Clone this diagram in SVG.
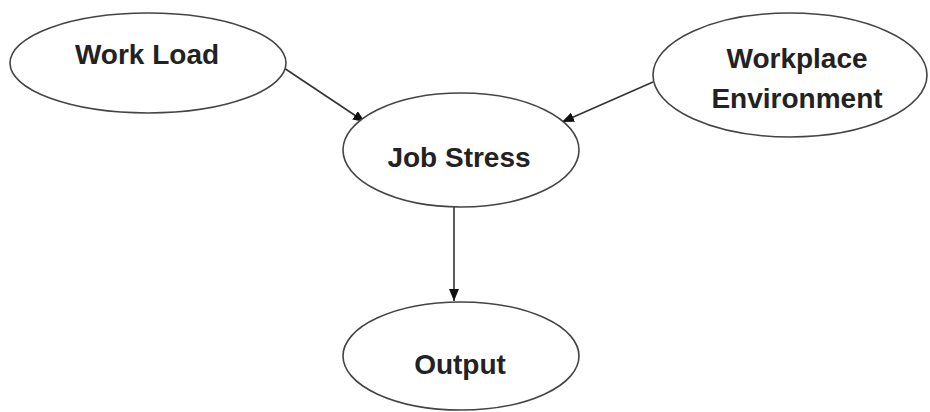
<svg xmlns="http://www.w3.org/2000/svg" width="930" height="412" viewBox="0 0 930 412">
<defs>
<style>
.node ellipse{fill:#fff;stroke:#444;stroke-width:1.6}
.node text{font-family:"Liberation Sans",Arial,sans-serif;font-weight:bold;font-size:28px;fill:#222;text-anchor:middle}
.edge{stroke:#333;stroke-width:1.6;fill:none;marker-end:url(#arr)}
</style>
<marker id="arr" viewBox="0 0 12 10" refX="12" refY="5" markerWidth="12" markerHeight="10" markerUnits="userSpaceOnUse" orient="auto">
<path d="M0,0 L12,5 L0,10 z" fill="#111"/>
</marker>
</defs>
<rect width="930" height="412" fill="#fff"/>
<g id="connectors">
<line class="edge" x1="284" y1="68" x2="365" y2="122"/>
<line class="edge" x1="653" y1="82" x2="562" y2="122"/>
<line class="edge" x1="454" y1="207" x2="454" y2="301"/>
</g>
<g id="work-load" class="node">
<ellipse cx="148" cy="63" rx="138" ry="50"/>
<text x="147" y="64">Work Load</text>
</g>
<g id="workplace-environment" class="node">
<ellipse cx="790" cy="75" rx="137" ry="62"/>
<text x="797" y="68">Workplace</text>
<text x="797" y="108">Environment</text>
</g>
<g id="job-stress" class="node">
<ellipse cx="461" cy="150" rx="118" ry="57"/>
<text x="459" y="167">Job Stress</text>
</g>
<g id="output" class="node">
<ellipse cx="461" cy="356" rx="118" ry="54"/>
<text x="460" y="374">Output</text>
</g>
</svg>
